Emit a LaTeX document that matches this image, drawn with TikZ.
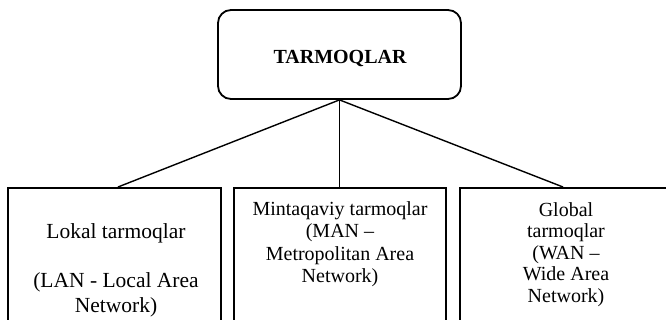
\documentclass[tikz,border=0pt]{standalone}
\usepackage{fontspec}
\setmainfont{Liberation Serif}
\begin{document}
\begin{tikzpicture}[x=1pt,y=-1pt,
  box/.style={draw, line width=1.8pt, inner sep=0pt},
  topbox/.style={box, rounded corners=13pt, minimum width=243pt, minimum height=89pt},
  lowbox/.style={box, minimum height=150pt, anchor=north west},
  txt/.style={align=center, inner sep=0pt, anchor=north},
  link/.style={line width=1.4pt}]
\useasboundingbox (0,0) rectangle (666,320);
\clip (0,0) rectangle (666,320);
\node[topbox] (top) at (339.5,54.5) {};
\node[inner sep=0pt, anchor=base, font=\fontsize{20}{24}\selectfont\bfseries] (toplabel) at (340,64) {TARMOQLAR};
\node[lowbox, minimum width=213pt] (lbox) at (7,187) {};
\node[lowbox, minimum width=212pt] (mbox) at (233,187) {};
\node[lowbox, minimum width=330pt] (rbox) at (459,187) {};
\node[txt, font=\fontsize{21.5}{24.5}\selectfont] (ltext) at (116,223.5) {Lokal tarmoqlar\\[24.5pt](LAN - Local Area\\Network)};
\node[txt, font=\fontsize{20}{22.3}\selectfont] (mtext) at (340,201.5) {Mintaqaviy tarmoqlar\\(MAN –\\Metropolitan Area\\Network)};
\node[txt, font=\fontsize{20}{21.6}\selectfont] (rtext) at (566,202) {Global\\tarmoqlar\\(WAN –\\Wide Area\\Network)};
\coordinate (lend) at (118,187);
\coordinate (rend) at (563,187);
\draw[link] (top.south) -- (lend);
\draw[link] (top.south) -- (mbox.north -| top.south);
\draw[link] (top.south) -- (rend);
\end{tikzpicture}
\end{document}
